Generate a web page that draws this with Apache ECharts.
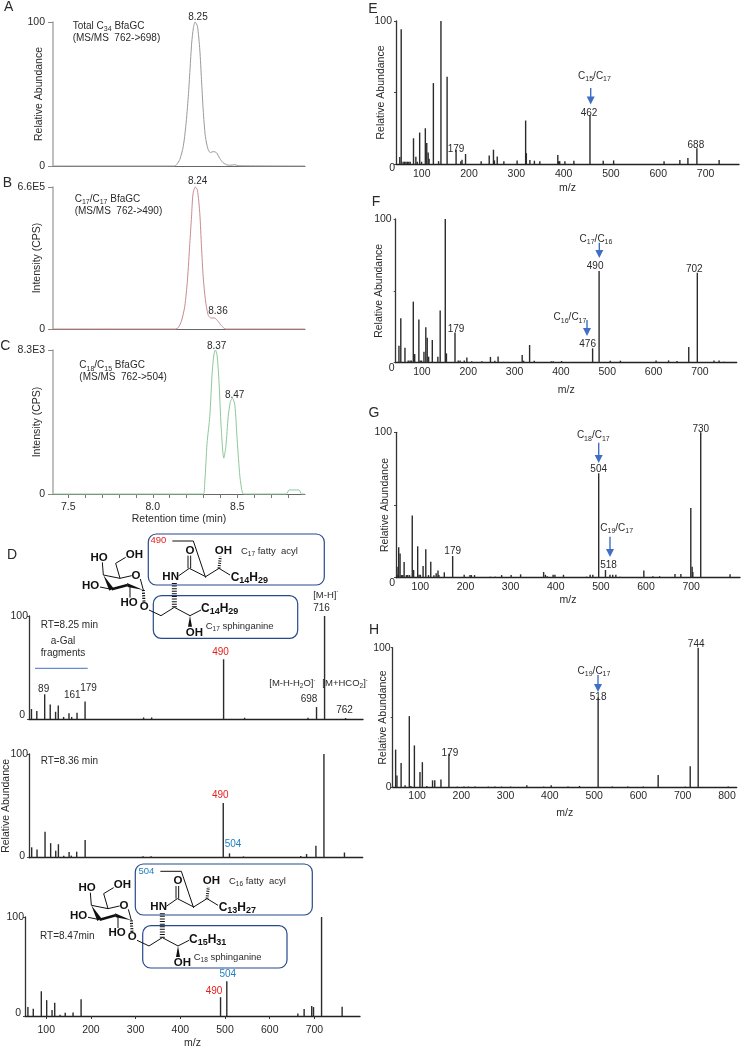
<!DOCTYPE html>
<html><head><meta charset="utf-8">
<style>html,body{margin:0;padding:0;background:#fff}#c{width:742px;height:1050px}</style>
<script src="https://cdn.jsdelivr.net/npm/echarts@6/dist/echarts.min.js"></script>
</head><body><div id="c"></div>
<script>
// ---------- chromatograms: [retention time (min), % of panel maximum]
const traceA=[[7.41,0],[8.13,0],[8.14,0.9],[8.16,4.6],[8.18,13.5],[8.195,27.4],[8.21,48.3],[8.22,66.8],[8.23,85.4],[8.24,95.8],[8.25,100],[8.264,97],[8.278,80.7],[8.288,59.9],[8.298,39],[8.311,20.4],[8.327,11.6],[8.341,9.3],[8.357,10],[8.376,9.3],[8.396,5.3],[8.416,2.3],[8.436,0.9],[8.455,0.5],[8.485,0.9],[8.505,0.2],[8.9,0]];
const traceB=[[7.41,0],[8.136,0],[8.15,0.9],[8.169,5.4],[8.189,15.9],[8.205,34.6],[8.219,60.3],[8.229,79],[8.238,95.3],[8.252,100],[8.264,97.7],[8.278,81.3],[8.288,57.9],[8.298,36.9],[8.311,20.6],[8.327,10],[8.341,7.9],[8.367,7.7],[8.386,5.4],[8.406,2.3],[8.432,0],[8.9,0]];
const traceC=[[7.41,0],[8.298,0],[8.307,7.6],[8.321,35.3],[8.337,53.8],[8.351,83.8],[8.361,96.5],[8.37,100],[8.38,96.5],[8.392,76.9],[8.404,46.9],[8.42,24.9],[8.432,33],[8.446,53.8],[8.459,64.2],[8.471,66.5],[8.485,61.9],[8.499,37.6],[8.515,12.2],[8.53,0.7],[8.54,0],[8.79,0],[8.806,2.8],[8.864,2.8],[8.88,0],[8.9,0]];
const rtTicks=[7.5,7.6,7.7,7.8,7.9,8.0,8.1,8.2,8.3,8.4,8.5,8.6,8.7,8.8];
const rtLabels=[7.5,8.0,8.5];
// ---------- spectra: [m/z, relative abundance]
const peaksD1=[[60,9.7],[72,7.8],[89.6,24],[102,14],[114,7],[120,13],[132,2],[144,5.5],[150,2],[162,6],[180,17],[311,1.5],[329,1.5],[490,58],[537,1.2],[679,1.2],[698,11.6],[716,100],[763,1]];
const peaksD2=[[60,10],[72,8],[90,25],[102.6,14],[114,6.8],[120,13],[132,2],[144,5.5],[149,2],[161,5.8],[180,17],[310,1.5],[328,1.5],[490,52.7],[504,4.2],[535.5,1.2],[664,1.6],[677,3.5],[698,11.6],[716,100],[762,5]];
const peaksD3=[[59,9],[71,7.4],[89,25],[101,16],[113,6],[119,13.5],[131,1.3],[142.5,3.2],[160,3.5],[178,17],[490,19],[504,35],[663,2.6],[677,7],[694,10],[698,9],[716,100],[762,9.4]];
const peaksE=[[60,4.9],[63,94.2],[67,1.6],[70,1.6],[73,1.6],[76,1.6],[79,1.6],[82,1.6],[89,18],[94,5],[97,1.6],[102,22],[106,1.6],[114,25],[117,14.6],[120,8],[122,3.7],[131,56.6],[142,2],[147,100],[160,61],[179,10],[189,2],[191.5,3],[199,7],[232,2],[249,6],[258,10],[260,2.5],[266,5.3],[280,2],[308,2.5],[326,30.4],[327.5,7.6],[335,2.8],[344.5,2.3],[356,2],[394,6.3],[396,2],[398,2],[409,2],[428,2.3],[462,34.3],[490,2.3],[512,2.5],[618.6,2],[652,2.8],[669,4.2],[688,11],[735,2.8]];
const peaksF=[[58,11.8],[62,31],[71,10.4],[78,1.5],[82,1.5],[85,1.5],[89,42.5],[92,6],[101,30],[104,1.5],[107,1.5],[112,7.6],[116,24.6],[119,17.4],[122,4.2],[130,15.8],[142,4.2],[147,36.4],[158,100],[160.5,6.5],[179,21],[186,1.5],[190,1.5],[199,1.5],[204.6,3.7],[215,1],[237,1],[255.5,4],[265,1.4],[272,4.4],[284,0.6],[324,5.3],[327,1.4],[340,12.3],[350,1.4],[387,1],[391,1],[409,1.2],[476,10],[490,63.8],[514,1.4],[536,1.4],[613,1.6],[640,1.6],[658,1.2],[683.5,11],[702,62.6],[738,1.6],[749,1.6],[760,0.7]];
const peaksG=[[59.4,7.5],[58,1.8],[61,20.9],[64,16.7],[67,1.8],[70,1.8],[73,10.8],[78,1.8],[81,1.8],[85,1.8],[91,42.7],[94,5.3],[103,21.6],[106,2],[109,2],[115,8],[121,19.5],[127,1.8],[132,11],[139,1.6],[144,3],[148,5],[150,1.8],[162,3.7],[180.5,14.9],[206,2],[219,1.8],[222,1.8],[229,1.8],[264,0.7],[275,0.7],[289,1.8],[310,1.8],[331,2.3],[382,3.9],[386,2],[390,1],[403,2],[407,2],[426,2],[477,0.7],[485,2],[491,2],[504,71.8],[519,5.3],[529,2],[535,2],[542,2],[551,0.7],[604,5],[624,1],[639,1],[673,2.5],[686,2.5],[708,48],[711,7.6],[712.5,4],[730,100],[795,2.3]];
const peaksH=[[60.6,27],[63.6,8.4],[73,17.4],[82,1.4],[91.5,51],[95,1],[103,30],[115.6,11],[121,18],[131,1],[144,5],[149,5],[163,5.5],[181,24],[200,0.5],[215,0.5],[225,0.5],[240,0.5],[270,0.5],[285,0.5],[300,0.5],[320,0.5],[357,1.4],[395,0.5],[412,1.4],[450,0.5],[476,1],[518,64.4],[550,0.5],[585,0.5],[620,0.5],[653.6,8.8],[715,0.5],[726,15],[744,100],[812,0.5]];
// ---------- peak annotations
const notesD1=[[89.6,'89'],[180,'179'],[490,'490'],[698,'698'],[716,'716'],[763,'762']];
const notesD2=[[490,'490'],[504,'504']];
const notesD3=[[490,'490'],[504,'504']];
const notesE=[[179,'179'],[462,'462'],[688,'688']];
const notesF=[[179,'179'],[476,'476'],[490,'490'],[702,'702']];
const notesG=[[180.5,'179'],[504,'504'],[519,'518'],[730,'730']];
const notesH=[[181,'179'],[518,'518'],[744,'744']];
const mzTicksD=[100,200,300,400,500,600,700];
const mzTicksE=[100,200,300,400,500,600,700];
const mzTicksG=[100,200,300,400,500,600,700];
const mzTicksH=[100,200,300,400,500,600,700,800];

// ---------- styling / layout
const FF='"Liberation Sans",Arial,sans-serif';
const TXT='#2a2a2a', DARK='#333', BLUE='#3f6fc4', NAVY='#274a8c', RED='#e5201f', CYAN='#1f7fc0';
const noteStyle={
 '89':{dx:-1,up:6},'179':{dx:0,up:3},'490':{dx:0,up:8},'698':{dx:-7.5,up:8},'716':{dx:-3,up:8},'762':{dx:-1,up:8},
 '504':{dx:0,up:7},'462':{dx:-1,up:2},'688':{dx:-1,up:4},'476':{dx:-5,up:5},'702':{dx:-3,up:4},'518':{dx:3,up:5},'730':{dx:0,up:4},'744':{dx:-2,up:4}
};
const noteOver={
 E:{'179':{dx:0,up:1}},
 F:{'490':{dx:-4,up:5},'179':{dx:1,up:3.5}},
 G:{'179':{dx:0,up:5},'504':{dx:0,up:5}},
 H:{'179':{dx:1,up:1.5},'518':{dx:0,up:0.5}},
 D1:{'179':{dx:3.5,up:13.5},'490':{dx:-3,up:8}},
 D2:{'490':{dx:-3,up:8},'504':{dx:3.5,up:9.5}},
 D3:{'490':{dx:-6.5,up:6.5},'504':{dx:1,up:7.5}}
};
const grids=[], xAxes=[], yAxes=[], series=[];
function box(l,t,r,b){grids.push({left:l,top:t,width:r-l,height:b-t,containLabel:false});return grids.length-1;}

function chrom(rect,data,color,yLabels,nameText,nameGap,bottom){
  const i=box(...rect);
  xAxes.push({type:'value',gridIndex:i,min:7.41,max:8.9,splitLine:{show:false},
    axisLine:{show:true,onZero:false,lineStyle:{color:'#666',width:1}},
    axisTick:{show:!!bottom,customValues:rtTicks,length:4,lineStyle:{color:'#777',width:1}},
    axisLabel:{show:!!bottom,customValues:rtLabels,formatter:v=>v.toFixed(1),fontFamily:FF,fontSize:10.5,color:TXT,margin:8},
    name:bottom?'Retention time (min)':'',nameLocation:'middle',nameGap:20,nameMoveOverlap:false,nameTextStyle:{fontFamily:FF,fontSize:10.5,color:TXT}});
  yAxes.push({type:'value',gridIndex:i,min:0,max:100,splitLine:{show:false},
    axisLine:{show:true,lineStyle:{color:'#aaa',width:1.5}},
    axisTick:{show:true,customValues:[0,100],length:5,lineStyle:{color:'#888',width:1}},
    axisLabel:{customValues:[0,100],formatter:v=>v===0?'0':yLabels,fontFamily:FF,fontSize:10.5,color:TXT,margin:8},
    name:nameText,nameLocation:'middle',nameGap:nameGap,nameMoveOverlap:false,nameTextStyle:{fontFamily:FF,fontSize:10.5,color:TXT}});
  series.push({type:'line',xAxisIndex:i,yAxisIndex:i,data:data,smooth:0.25,showSymbol:false,symbol:'none',clip:false,
    lineStyle:{color:color,width:1},silent:true});
}
function spec(key,rect,minX,maxX,data,notes,o){
  const i=box(...rect);
  const over=noteOver[key]||{};
  const items=data.map(p=>{
    const n=notes.find(a=>a[0]===p[0]);
    if(!n) return {value:p};
    const st=over[n[1]]||noteStyle[n[1]];
    const col=n[2]||(key[0]==='D'?(n[1]==='490'?RED:n[1]==='504'?CYAN:TXT):TXT);
    return {value:p,label:{show:true,position:'top',distance:0,formatter:n[1],fontFamily:FF,fontSize:10,color:col,offset:[st.dx,5.5-st.up]}};
  });
  xAxes.push({type:'value',gridIndex:i,min:minX,max:maxX,splitLine:{show:false},
    axisLine:{show:true,onZero:false,lineStyle:{color:'#222',width:1.3}},
    axisTick:{show:!!o.dTicks,customValues:o.ticks||[],length:3,inside:false,lineStyle:{color:'#333'}},
    axisLabel:{show:!!o.ticks,customValues:o.ticks||[],fontFamily:FF,fontSize:10.5,color:TXT,margin:o.xm||4,padding:[0,0,0,o.shift||0]},
    name:o.xname?'m/z':'',nameLocation:'middle',nameGap:o.xgap||22,nameMoveOverlap:false,nameTextStyle:{fontFamily:FF,fontSize:10.5,color:TXT}});
  const z=o.zeroDrop||0, zu=o.zeroUp||0;
  yAxes.push({type:'value',gridIndex:i,min:0,max:100,splitLine:{show:false},
    axisLine:{show:true,lineStyle:{color:'#333',width:1.3}},
    axisTick:{show:true,customValues:o.y50?[0,50,100]:[0,100],length:2,lineStyle:{color:'#444'}},
    axisLabel:{customValues:o.y50?[0,50,100]:[0,100],
      formatter:v=>v===100?'{h|100}':v===0?'{z|0}':'',
      rich:{h:{fontFamily:FF,fontSize:10.5,color:TXT,padding:[0,o.hpad===undefined?3:o.hpad,0,0]},
            z:{fontFamily:FF,fontSize:10.5,color:TXT,padding:[z*2,zu?3:0,zu*2,0]}},margin:1},
    name:o.yname?'Relative Abundance':'',nameLocation:'middle',nameGap:o.ygap||8,nameMoveOverlap:false,nameTextStyle:{fontFamily:FF,fontSize:10.5,color:TXT}});
  series.push({type:'bar',xAxisIndex:i,yAxisIndex:i,data:items,barWidth:o.bw||1.4,itemStyle:{color:'#2b2b2b'},silent:true});
}

chrom([53,22,305,166],traceA,'#9a9a9a','100','Relative Abundance',8);
chrom([53,187,305,329],traceB,'#c98b90','6.6E5','Intensity (CPS)',10);
chrom([53,350,305,494],traceC,'#8fc89a','8.3E3','Intensity (CPS)',10,true);
spec('D1',[29,616,363,719],54.5,802,peaksD1,notesD1,{hpad:0,zeroUp:4});
spec('D2',[28,754,362.7,857.7],54,803,peaksD2,notesD2,{hpad:0,zeroUp:2,yname:true,ygap:17});
spec('D3',[25,917,360,1020],52.5,802,peaksD3,notesD3,{hpad:0,zeroUp:3,ticks:mzTicksD,dTicks:true,xname:true,xgap:22,xm:9});
spec('E',[396,21,739,164],52,777,peaksE,notesE,{ticks:mzTicksE,shift:6,xname:true,xgap:19,xm:5,y50:true,yname:true,ygap:9,zeroDrop:4});
spec('F',[395.7,219,736.7,362.7],51,787,peaksF,notesF,{ticks:mzTicksE,shift:7,xname:true,xgap:22,y50:true,yname:true,ygap:11,zeroDrop:5});
spec('G',[396,432.3,740,577.7],55,817,peaksG,notesG,{ticks:mzTicksG,shift:8,xname:true,xgap:17,y50:true,yname:true,ygap:5,zeroDrop:5});
spec('H',[392.7,647.7,736.7,787.3],54,831,peaksH,notesH,{ticks:mzTicksH,shift:8,xname:true,xgap:20,y50:true,yname:true,ygap:4,xm:3,hpad:1});

// ---------- graphic annotations
const G=[];
const richBase=(sz,col,bold)=>({
  n:{fontFamily:FF,fontSize:sz,fill:col,fontWeight:bold?'bold':'normal',lineHeight:sz+3},
  s:{fontFamily:FF,fontSize:sz-3,fill:col,fontWeight:bold?'bold':'normal',verticalAlign:'bottom',lineHeight:sz+3},
  u:{fontFamily:FF,fontSize:sz-4,fill:col,verticalAlign:'top',lineHeight:sz+3}
});
function T(x,y,text,opt){opt=opt||{};
  const sz=opt.size||10,col=opt.color||TXT;
  G.push({type:'text',silent:true,z:20,style:{x:x,y:y,text:text,rich:richBase(sz,col,opt.bold),
    fontFamily:FF,fontSize:sz,fill:col,fontWeight:opt.bold?'bold':'normal',
    textAlign:opt.align||'center',textVerticalAlign:'middle',align:opt.align||'center',verticalAlign:'middle'}});
}
const n=s=>'{n|'+s+'}', s=v=>'{s|'+v+'}', u=v=>'{u|'+v+'}';
function L(pts,w,col,dash){G.push({type:'polyline',silent:true,z:15,shape:{points:pts},style:{fill:null,stroke:col||'#111',lineWidth:w||1,lineDash:dash||null}});}
function P(pts,col){G.push({type:'polygon',silent:true,z:15,shape:{points:pts},style:{fill:col||'#111',stroke:null}});}
function RR(x,y,w,h){G.push({type:'rect',silent:true,z:14,shape:{x:x,y:y,width:w,height:h,r:8},style:{fill:null,stroke:NAVY,lineWidth:1.2}});}
function arrow(x,y1,y2){L([[x,y1],[x,y2-6]],1.4,BLUE);P([[x-4,y2-8],[x+4,y2-8],[x,y2]],BLUE);}

// panel letters
[['A',8.7,7.5],['B',7.3,183],['C',5.3,346],['D',12,555],['E',373,9.5],['F',376,202.5],['G',374,413],['H',374,630.5]]
 .forEach(a=>T(a[1],a[2],a[0],{size:14}));

// chromatogram captions
T(72.7,26,n('Total C')+s('34')+n(' BfaGC'),{align:'left'});
T(72.7,38,'(MS/MS  762->698)',{align:'left'});
T(74.7,199.3,n('C')+s('17')+n('/C')+s('17')+n(' BfaGC'),{align:'left'});
T(74.7,211.3,'(MS/MS  762->490)',{align:'left'});
T(79.3,365.7,n('C')+s('18')+n('/C')+s('15')+n(' BfaGC'),{align:'left'});
T(79.3,377.7,'(MS/MS  762->504)',{align:'left'});
[[198,17.3,'8.25'],[197.7,181.7,'8.24'],[218,311.7,'8.36'],[216.7,346,'8.37'],[234.7,395.7,'8.47']].forEach(a=>T(a[0],a[1],a[2]));

// panel D free text
T(69.3,625,'RT=8.25 min');T(63,641.7,'a-Gal');T(63,653.7,'fragments');
L([[35,668.3],[87.7,668.3]],1,'#4472c4');
T(72.3,695.5,'161');
T(325.7,595,n('[M-H]')+u('-'),{size:9.5});
T(292.3,683.7,n('[M-H-H')+s('2')+n('O]')+u('-'),{size:9.5});
T(345,683.7,n('[M+HCO')+s('2')+n(']')+u('-'),{size:9.5});
T(69.3,761,'RT=8.36 min');T(67.3,936.7,'RT=8.47min');

// arrows + species labels on E-H
arrow(590.7,88,104.5);T(594.5,76.5,n('C')+s('15')+n('/C')+s('17'));
arrow(599.3,242.7,258);T(596,239.5,n('C')+s('17')+n('/C')+s('16'));
arrow(587,320,336);T(570,317.7,n('C')+s('16')+n('/C')+s('17'));
arrow(598.7,442.7,463);T(593.3,435.7,n('C')+s('18')+n('/C')+s('17'));
arrow(610,536.7,557);T(616.7,528.3,n('C')+s('19')+n('/C')+s('17'));
arrow(598,675,692);T(594,671,n('C')+s('19')+n('/C')+s('17'));

// glycolipid structure sketch
function structure(dx,dy,o){
  const ox=75+dx, oy=525+dy, p=(x,y)=>[ox+x/3,oy+y/3];
  const ln=(a,w)=>L(a.map(q=>p(q[0],q[1])),w||1);
  ln([[122,115],[152,97]]);ln([[122,115],[135,160]]);ln([[135,160],[170,152]]);ln([[196,162],[205,195]]);
  ln([[85,150],[135,160]]);ln([[82,112],[85,150]]);ln([[75,186],[110,193]]);ln([[165,182],[165,218]]);
  P([p(85,150),p(103,197),p(115,189)]);
  L([p(110,193),p(158,180)],2.6);
  P([p(156,174),p(158,186),p(205,195)]);
  L([p(205,195),p(207,232)],3,'#111',[1.2,1.4]);
  ln([[222,255],[258,272],[298,247],[345,272],[378,255]]);
  P([p(345,272),p(339,305),p(351,305)]);
  L([p(298,247),p(298,172)],5,'#111',[1,1.6]);
  ln([[310,153],[343,130],[392,155],[432,130],[465,150]]);
  ln([[339,130],[339,92]]);ln([[347,130],[347,92]]);
  L([p(432,130),p(436,95)],3,'#111',[1,1.3]);
  ln([[292,48],[355,48],[392,158]]);
  const B=(x,y,t)=>{const q=p(x,y);T(q[0],q[1],t,{size:11.5,bold:true,color:'#111'});};
  B(72,98,'HO');B(178,88,'OH');B(183,152,'O');B(47,183,'HO');B(162,232,'HO');B(208,245,'O');
  B(287,155,'HN');B(345,78,'O');B(445,78,'OH');B(358,322,'OH');
  const C=(x,y,t)=>{const q=p(x,y);T(q[0],q[1],t,{size:12,bold:true,color:'#111',align:'left'});};
  C(467,158,o.acyl);C(378,252,o.sph);
  let q=p(498,78);T(q[0],q[1],o.acylName,{size:9.5,align:'left'});
  q=p(392,305);T(q[0],q[1],o.sphName,{size:9.5,align:'left'});
  q=p(250,47);T(q[0],q[1],o.frag,{size:9.5,color:o.fragColor});
}
RR(148.3,534,176,51);RR(153.3,595.7,144.4,42.6);
RR(135.3,864,177,51);RR(142.7,925.7,144.3,42.3);
structure(0,0,{acyl:n('C')+s('14')+n('H')+s('29'),sph:n('C')+s('14')+n('H')+s('29'),
  acylName:n('C')+s('17')+n(' fatty  acyl'),sphName:n('C')+s('17')+n(' sphinganine'),frag:'490',fragColor:RED});
structure(-12,330.3,{acyl:n('C')+s('13')+n('H')+s('27'),sph:n('C')+s('15')+n('H')+s('31'),
  acylName:n('C')+s('16')+n(' fatty  acyl'),sphName:n('C')+s('18')+n(' sphinganine'),frag:'504',fragColor:CYAN});

const chart=echarts.init(document.getElementById('c'),null,{renderer:'canvas'});
chart.setOption({animation:false,backgroundColor:'#fff',textStyle:{fontFamily:FF},
  grid:grids,xAxis:xAxes,yAxis:yAxes,series:series,graphic:{elements:G}});
</script></body></html>
